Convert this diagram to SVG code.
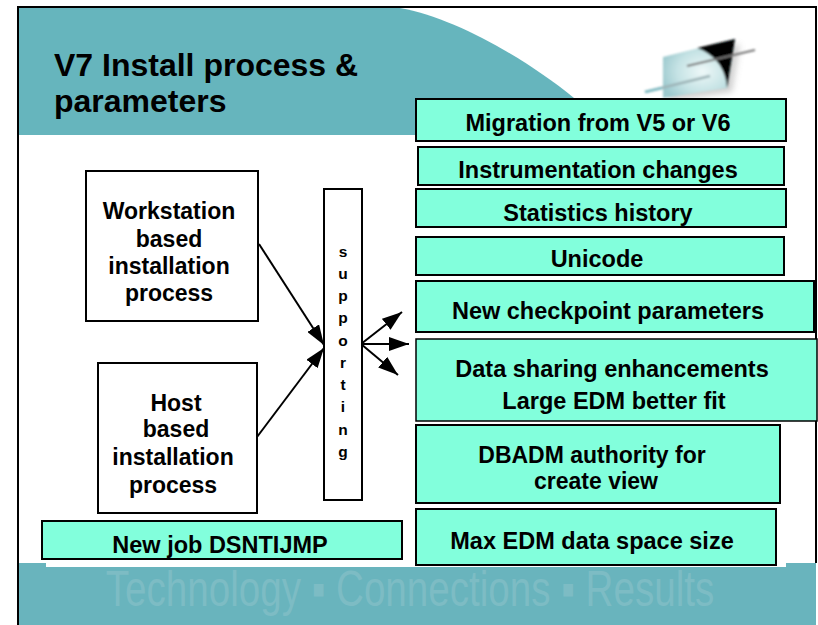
<svg xmlns="http://www.w3.org/2000/svg" width="818" height="625" viewBox="0 0 818 625">
<style>
text{font-family:"Liberation Sans",Arial,sans-serif;font-weight:bold;fill:#000;text-anchor:middle}
.t{font-size:23.5px}
.u{font-size:23px}
.b{fill:#fff;stroke:#000;stroke-width:2}
.g{fill:#82ffdc;stroke:#000;stroke-width:2}
.c{fill:none;stroke:#000;stroke-width:2}
.s{font-size:15.5px}
</style>
<defs>
<marker id="h" viewBox="0 0 20 14" refX="20" refY="7" markerWidth="20" markerHeight="14" markerUnits="userSpaceOnUse" orient="auto"><path d="M0 0L20 7L0 14z" fill="#000"/></marker>
<radialGradient id="lg" cx="0.55" cy="0.55" r="0.6"><stop offset="0" stop-color="#eef8f8"/><stop offset="0.6" stop-color="#c4e2e4"/><stop offset="1" stop-color="#9cc9ce"/></radialGradient>
<filter id="bl" x="-20%" y="-20%" width="140%" height="140%"><feGaussianBlur stdDeviation="0.9"/></filter>
<filter id="bl2" x="-30%" y="-30%" width="160%" height="160%"><feGaussianBlur stdDeviation="3"/></filter>
</defs>
<rect width="818" height="625" fill="#fff"/>
<g id="background">
<path d="M19 8H400C455 18 525 58 574 98L590 135H19z" fill="#66b5bd"/>
<rect x="18" y="563" width="798" height="62" fill="#69b4bd"/>
<rect x="46" y="540" width="740" height="27" fill="#fff"/>
<path d="M18 625V7H816V563" fill="none" stroke="#000" stroke-width="2"/>
</g>
<g id="logo">
<path d="M668 62L740 44L732 92L668 102z" fill="#999" opacity="0.45" filter="url(#bl2)"/>
<g filter="url(#bl)">
<path d="M663 57L735 39L727 88L663 98z" fill="url(#lg)"/>
<path d="M697 48L735 39L727 88C726 68 714 54 697 48z" fill="#000"/>
<path d="M687 66L755 50" stroke="#777" stroke-width="2" fill="none"/>
<path d="M645 92L710 76" stroke="#9db4b7" stroke-width="2.5" fill="none"/>
<path d="M645 92L662 88" stroke="#7fbcc4" stroke-width="2.5" fill="none"/>
</g>
</g>
<g id="title"><text x="54" y="76" style="text-anchor:start;font-size:32px">V7 Install process &amp;</text><text x="54" y="112" style="text-anchor:start;font-size:32px">parameters</text></g>
<g id="connectors">
<path class="c" d="M259 244L324 345" marker-end="url(#h)"/>
<path class="c" d="M257 437L324 348" marker-end="url(#h)"/>
<path class="c" d="M361 344L402 312" marker-end="url(#h)"/>
<path class="c" d="M361 344L409 344" marker-end="url(#h)"/>
<path class="c" d="M361 344L398 375" marker-end="url(#h)"/>
</g>
<g id="n-workstation"><rect class="b" x="86" y="171" width="172" height="150"/><text class="u" x="169" y="219">Workstation</text><text class="u" x="169" y="247">based</text><text class="u" x="169" y="274">installation</text><text class="u" x="169" y="301">process</text></g>
<g id="n-host"><rect class="b" x="98" y="363" width="159" height="150"/><text class="u" x="176" y="411">Host</text><text class="u" x="176" y="437">based</text><text class="u" x="173" y="465">installation</text><text class="u" x="173" y="493">process</text></g>
<g id="n-supporting"><rect class="b" x="324" y="189" width="38" height="311"/>
<text class="s" x="343" y="257">s</text><text class="s" x="343" y="279">u</text><text class="s" x="343" y="301">p</text><text class="s" x="343" y="323">p</text><text class="s" x="343" y="346">o</text><text class="s" x="343" y="368">r</text><text class="s" x="343" y="390">t</text><text class="s" x="343" y="412">i</text><text class="s" x="343" y="435">n</text><text class="s" x="343" y="457">g</text></g>
<g id="n-migration"><rect class="g" x="416" y="99" width="370" height="42"/><text class="t" x="598" y="131">Migration from V5 or V6</text></g>
<g id="n-instrumentation"><rect class="g" x="418" y="147" width="366" height="38"/><text class="t" x="598" y="178">Instrumentation changes</text></g>
<g id="n-statistics"><rect class="g" x="416" y="189" width="370" height="38"/><text class="t" x="598" y="221">Statistics history</text></g>
<g id="n-unicode"><rect class="g" x="416" y="237" width="368" height="38"/><text class="t" x="597" y="267">Unicode</text></g>
<g id="n-checkpoint"><rect class="g" x="416" y="281" width="398" height="51"/><text class="t" x="608" y="319">New checkpoint parameters</text></g>
<g id="n-datasharing"><rect class="g" x="416" y="339" width="401" height="82" style="stroke-width:1.5"/><text class="t" x="612" y="377">Data sharing enhancements</text><text class="t" x="614" y="409">Large EDM better fit</text></g>
<g id="n-dbadm"><rect class="g" x="416" y="425" width="364" height="78"/><text class="u" x="592" y="463">DBADM authority for</text><text class="u" x="596" y="489">create view</text></g>
<g id="n-maxedm"><rect class="g" x="416" y="509" width="360" height="56"/><text class="t" x="592" y="549">Max EDM data space size</text></g>
<g id="n-newjob"><rect class="g" x="42" y="521" width="360" height="38"/><text class="t" x="220" y="553">New job DSNTIJMP</text></g>
<g id="footer-text"><text transform="translate(410 606) scale(0.877 1.14)" font-size="44" style="font-weight:normal;fill:#7dbcc4">Technology ▪ Connections ▪ Results</text></g>
</svg>
